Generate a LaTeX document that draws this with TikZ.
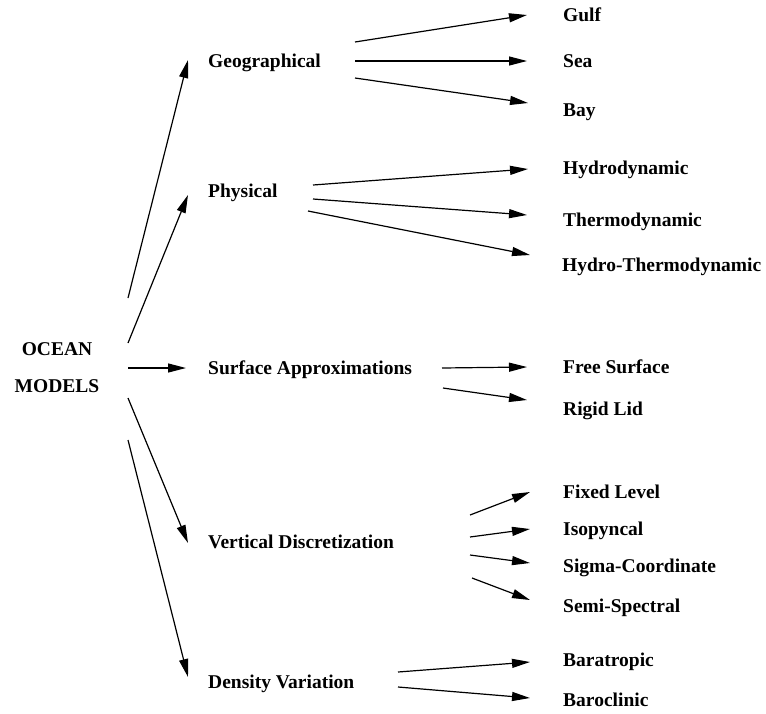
\documentclass[tikz,border=0pt]{standalone}
\usepackage{fontspec}
\setmainfont{Liberation Serif}
\usetikzlibrary{arrows.meta}

\begin{document}
\begin{tikzpicture}[x=1pt,y=-1pt,
    lbl/.style={anchor=west,inner sep=0pt,text height=12pt,text depth=0pt,
        font=\bfseries\fontsize{19.5}{23}\selectfont},
    arr/.style={-{Triangle[length=18pt,width=9pt]},line width=1.2pt}]
    \useasboundingbox (0,0) rectangle (766,713);

    % root
    \node[align=center,inner sep=0pt,font=\bfseries\fontsize{19.5}{37}\selectfont]
        (ocean) at (57,368) {OCEAN\\MODELS};

    % second level
    \node[lbl] (geo) at (208,61) {Geographical};
    \node[lbl] (phys) at (208,191) {Physical};
    \node[lbl] (surf) at (208,368) {Surface Approximations};
    \node[lbl] (vert) at (208,542) {Vertical Discretization};
    \node[lbl] (dens) at (208,682) {Density Variation};

    % third level
    \node[lbl] (gulf) at (563,15) {Gulf};
    \node[lbl] (sea) at (563,61) {Sea};
    \node[lbl] (bay) at (563,110) {Bay};
    \node[lbl] (hydro) at (563,168) {Hydrodynamic};
    \node[lbl] (thermo) at (563,220) {Thermodynamic};
    \node[lbl] (hthermo) at (562,265) {Hydro-Thermodynamic};
    \node[lbl] (free) at (563,367) {Free Surface};
    \node[lbl] (rigid) at (563,409) {Rigid Lid};
    \node[lbl] (fixed) at (563,492) {Fixed Level};
    \node[lbl] (iso) at (563,529) {Isopyncal};
    \node[lbl] (sigma) at (563,566) {Sigma-Coordinate};
    \node[lbl] (semi) at (563,606) {Semi-Spectral};
    \node[lbl] (bara) at (563,660) {Baratropic};
    \node[lbl] (baro) at (563,700) {Baroclinic};

    % arrows from the root
    \draw[arr] ([shift={(71,-70)}]ocean.center) -- ([shift={(-20,-1)}]geo.west);
    \draw[arr] ([shift={(71,-25)}]ocean.center) -- ([shift={(-20,4)}]phys.west);
    \draw[arr] ([shift={(71,0)}]ocean.center) -- ([shift={(-22,0)}]surf.west);
    \draw[arr] ([shift={(71,30)}]ocean.center) -- ([shift={(-20,1)}]vert.west);
    \draw[arr] ([shift={(71,72)}]ocean.center) -- ([shift={(-20,-5)}]dens.west);

    % geographical
    \draw[arr] ([shift={(147,-19)}]geo.west) -- ([shift={(-36,0)}]gulf.west);
    \draw[arr] ([shift={(147,0)}]geo.west) -- ([shift={(-36,0)}]sea.west);
    \draw[arr] ([shift={(147,17)}]geo.west) -- ([shift={(-35,-7)}]bay.west);

    % physical
    \draw[arr] ([shift={(105,-6)}]phys.west) -- ([shift={(-35,1)}]hydro.west);
    \draw[arr] ([shift={(105,8)}]phys.west) -- ([shift={(-36,-5)}]thermo.west);
    \draw[arr] ([shift={(100,20)}]phys.west) -- ([shift={(-32,-10)}]hthermo.west);

    % surface
    \draw[arr] ([shift={(234,0)}]surf.west) -- ([shift={(-36,0)}]free.west);
    \draw[arr] ([shift={(235,20)}]surf.west) -- ([shift={(-36,-9)}]rigid.west);

    % vertical
    \draw[arr] ([shift={(262,-27)}]vert.west) -- ([shift={(-33,0)}]fixed.west);
    \draw[arr] ([shift={(262,-5)}]vert.west) -- ([shift={(-33,0)}]iso.west);
    \draw[arr] ([shift={(262,13)}]vert.west) -- ([shift={(-33,-3)}]sigma.west);
    \draw[arr] ([shift={(264,36)}]vert.west) -- ([shift={(-33,-6)}]semi.west);

    % density
    \draw[arr] ([shift={(190,-10)}]dens.west) -- ([shift={(-33,2)}]bara.west);
    \draw[arr] ([shift={(190,5)}]dens.west) -- ([shift={(-33,-2)}]baro.west);
\end{tikzpicture}
\end{document}
